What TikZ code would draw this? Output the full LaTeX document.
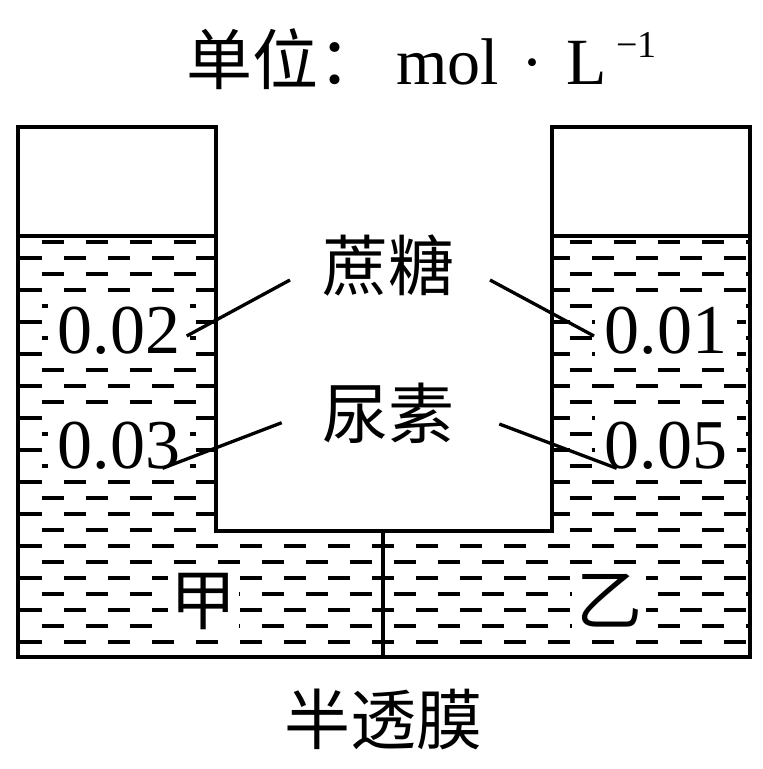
\documentclass[tikz,border=0pt]{standalone}
\usepackage{fontspec}
\setmainfont{Liberation Serif}
\newfontfamily\cjk{Noto Sans CJK SC}
\begin{document}
\begin{tikzpicture}[x=1pt,y=-1pt,
  wall/.style={line width=4pt, line join=miter, line cap=rect},
  lead/.style={line width=3.3pt},
  wave/.style={line width=3.8pt, dash pattern=on 22.5pt off 21.5pt},
  lbl/.style={font=\fontsize{66}{66}\selectfont, inner sep=0pt},
  num/.style={font=\fontsize{70}{70}\selectfont, inner sep=0pt, fill=white},
  mask/.style={lbl, fill=white},
]
\useasboundingbox (0,0) rectangle (763,769);
% liquid hatching
\begin{scope}
  \clip (17.5,235.7) -- (216,235.7) -- (216,530.7) -- (552.3,530.7) -- (552.3,235.7)
        -- (749.7,235.7) -- (749.7,656.7) -- (17.5,656.7) -- cycle;
  \foreach \k in {0,...,25}{
    \pgfmathsetmacro{\yy}{242.3+15.98*\k}
    \pgfmathsetmacro{\xs}{ifthenelse(mod(\k,2)==1,-24.3,-2.3)}
    \draw[wave] (\xs,\yy) -- (780,\yy);
  }
\end{scope}
% value labels with white masks
\node[num, minimum width=142pt, minimum height=64pt] (v1) at (119,331) {0.02};
\node[num, minimum width=142pt, minimum height=66pt] (v2) at (119,446) {0.03};
\node[num, minimum width=142pt, minimum height=64pt] (v3) at (666,331) {0.01};
\node[num, minimum width=142pt, minimum height=66pt] (v4) at (666,446) {0.05};
\node[mask, minimum width=71pt, minimum height=63pt] (jia) at (203,601) {\cjk 甲};
\node[mask, minimum width=74pt, minimum height=62pt] (yi) at (609,601) {\cjk 乙};
% vessel
\draw[wall] (17.5,126.7) -- (17.5,656.7) -- (749.7,656.7) -- (749.7,126.7)
  -- (552.3,126.7) -- (552.3,530.7) -- (216,530.7) -- (216,126.7) -- cycle;
\draw[wall] (17.5,235.7) -- (216,235.7);
\draw[wall] (552.3,235.7) -- (749.7,235.7);
\coordinate (mtop) at (383.3,530.7);
\coordinate (mbot) at (383.3,656.7);
\draw[wall] (mtop) -- (mbot);
% texts
\node[lbl, anchor=base west] (unit) at (186,84) {\cjk 单位：\rmfamily\kern12pt mol\makebox[68pt]{·}L\kern9pt\raisebox{27pt}{\fontsize{38}{38}\selectfont −1}};
\node[lbl] (sucrose) at (388,266) {\cjk 蔗糖};
\node[lbl] (urea) at (388,413) {\cjk 尿素};
\node[lbl] (membrane) at (383,719) {\cjk 半透膜};
% leader lines
\coordinate (s1) at (290,280);   \coordinate (e1) at (186.7,336);
\coordinate (s2) at (490,280);   \coordinate (e2) at (594,336);
\coordinate (s3) at (281.7,422.7); \coordinate (e3) at (162.5,468.3);
\coordinate (s4) at (499.3,424); \coordinate (e4) at (616.7,468.3);
\draw[lead] (s1) -- (e1);
\draw[lead] (s2) -- (e2);
\draw[lead] (s3) -- (e3);
\draw[lead] (s4) -- (e4);
\end{tikzpicture}
\end{document}
